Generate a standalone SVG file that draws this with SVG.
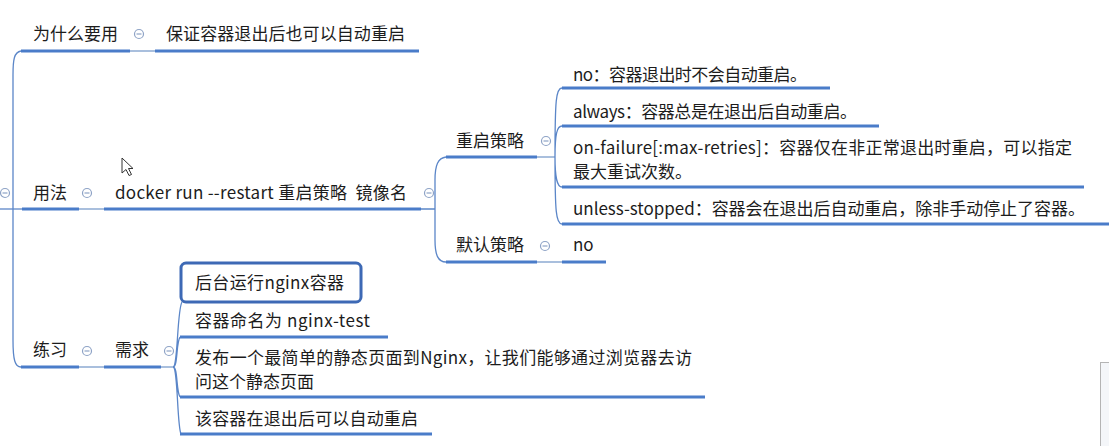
<svg xmlns="http://www.w3.org/2000/svg" width="1109" height="446" viewBox="0 0 1109 446">
<style>
text{font-family:"Noto Sans CJK SC","Microsoft YaHei",sans-serif;font-size:17px;fill:#1c1c1c}
.ul{stroke:#4a7cc9;stroke-width:3;fill:none}
.lk{stroke:#a9bfdd;stroke-width:2;fill:none}
.cv{stroke:#5b86c8;stroke-width:1.3;fill:none}
.tg circle{fill:#fff;stroke:#8ea3c6;stroke-width:1.2}
.tg path{stroke:#8ea3c6;stroke-width:1.2}
</style>
<rect width="1109" height="446" fill="#fff"/>
<g id="connectors">
<path class="cv" d="M0,209 H22"/>
<path class="cv" d="M21,51 C14,52 13,60 13,75 V340 C13,360 15,367 21,367"/>
<path class="lk" d="M130,51 H155 M79,209 H104 M79,367 H104 M537,262 H562"/>
<path class="cv" d="M421,209 H435 M446,157 C438,158 435,165 435,180 V240 C435,255 438,262 446,262"/>
<path class="lk" d="M537,157 H555"/>
<path class="cv" d="M555,157 C555,100 556,88 562,88 M555,157 C555,134 557,126 562,126 M555,157 C555,178 557,187 562,187 M555,157 C555,212 556,224 562,224"/>
<path class="lk" d="M161,367 H173"/>
<path class="cv" d="M173,367 C178,367 177,310 182,302 M173,367 C178,367 176,343 180,337 M173,367 C178,367 176,391 180,397 M173,367 C178,367 177,426 181,434"/>
</g>
<g id="root"><g class="tg"><circle cx="5" cy="193" r="4.5"/><path d="M2.5,193 H7.5"/></g></g>
<g id="why">
<text x="33" y="40">为什么要用</text>
<path class="ul" d="M21,51 H130"/>
<g class="tg"><circle cx="139" cy="34" r="4.5"/><path d="M136.5,34 H141.5"/></g>
</g>
<g id="why-answer">
<text x="166" y="40" textLength="239" lengthAdjust="spacing">保证容器退出后也可以自动重启</text>
<path class="ul" d="M155,51 H419"/>
</g>
<g id="usage">
<text x="33" y="199">用法</text>
<path class="ul" d="M22,209 H79"/>
<g class="tg"><circle cx="87" cy="193" r="4.5"/><path d="M84.5,193 H89.5"/></g>
</g>
<g id="command">
<text x="115" y="199" xml:space="preserve" textLength="292" lengthAdjust="spacing">docker run --restart 重启策略  镜像名</text>
<path class="ul" d="M104,209 H421"/>
<g class="tg"><circle cx="429" cy="193" r="4.5"/><path d="M426.5,193 H431.5"/></g>
</g>
<g id="policy">
<text x="456" y="147">重启策略</text>
<path class="ul" d="M446,157 H537"/>
<g class="tg"><circle cx="546" cy="141" r="4.5"/><path d="M543.5,141 H548.5"/></g>
</g>
<g id="default">
<text x="456" y="251">默认策略</text>
<path class="ul" d="M446,262 H537"/>
<g class="tg"><circle cx="545" cy="246" r="4.5"/><path d="M542.5,246 H547.5"/></g>
</g>
<g id="default-no">
<text x="573" y="251">no</text>
<path class="ul" d="M562,262 H606"/>
</g>
<g id="p-no">
<text x="573" y="81" textLength="234" lengthAdjust="spacing">no：容器退出时不会自动重启。</text>
<path class="ul" d="M562,88 H830"/>
</g>
<g id="p-always">
<text x="573" y="118" textLength="284" lengthAdjust="spacing">always：容器总是在退出后自动重启。</text>
<path class="ul" d="M562,126 H879"/>
</g>
<g id="p-onfailure">
<text x="573" y="154" textLength="499" lengthAdjust="spacing">on-failure[:max-retries]：容器仅在非正常退出时重启，可以指定</text>
<text x="573" y="178">最大重试次数。</text>
<path class="ul" d="M562,187 H1084"/>
</g>
<g id="p-unless">
<text x="573" y="215" textLength="512" lengthAdjust="spacing">unless-stopped：容器会在退出后自动重启，除非手动停止了容器。</text>
<path class="ul" d="M562,224 H1109"/>
</g>
<g id="practice">
<text x="33" y="356">练习</text>
<path class="ul" d="M21,367 H79"/>
<g class="tg"><circle cx="87" cy="351" r="4.5"/><path d="M84.5,351 H89.5"/></g>
</g>
<g id="need">
<text x="115" y="356">需求</text>
<path class="ul" d="M104,367 H161"/>
<g class="tg"><circle cx="169" cy="351" r="4.5"/><path d="M166.5,351 H171.5"/></g>
</g>
<g id="req1">
<rect x="181" y="263" width="180" height="39" rx="5" fill="#fff" stroke="#3d69b5" stroke-width="3"/>
<text x="195" y="289" textLength="149" lengthAdjust="spacing">后台运行nginx容器</text>
</g>
<g id="req2">
<text x="195" y="327" textLength="175" lengthAdjust="spacing">容器命名为 nginx-test</text>
<path class="ul" d="M180,337 H388"/>
</g>
<g id="req3">
<text x="195" y="364" textLength="497" lengthAdjust="spacing">发布一个最简单的静态页面到Nginx，让我们能够通过浏览器去访</text>
<text x="195" y="388">问这个静态页面</text>
<path class="ul" d="M180,397 H705"/>
</g>
<g id="req4">
<text x="195" y="425" textLength="223" lengthAdjust="spacing">该容器在退出后可以自动重启</text>
<path class="ul" d="M180,434 H432"/>
</g>
<rect x="1100.5" y="362.5" width="10" height="90" fill="#f4f6f9" stroke="#b4b4b4" stroke-width="1"/>
<path d="M122,158 L122,173 L126,169.5 L129,175.5 L131.5,174.5 L128.5,168.5 L133,168.5 Z" fill="#fff" stroke="#333" stroke-width="1"/>
</svg>
